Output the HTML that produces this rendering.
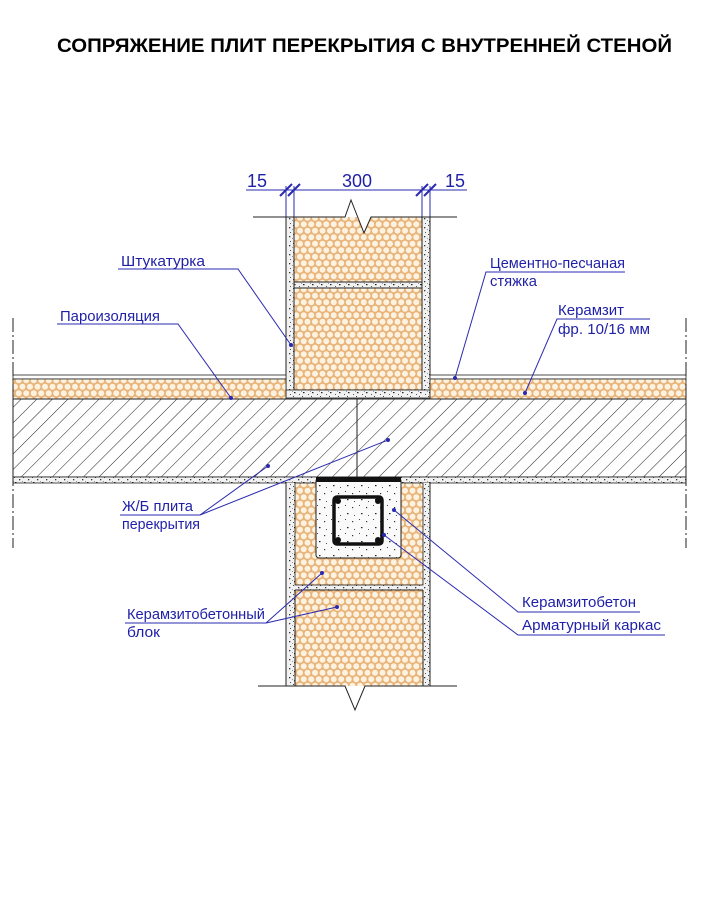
<!DOCTYPE html>
<html><head><meta charset="utf-8"><style>
html,body{margin:0;padding:0;background:#fff;}
svg{display:block;}
text{font-family:"Liberation Sans","DejaVu Sans",sans-serif;}
.lb{fill:#1f1fa8;font-size:15px;}
.ld{stroke:#2a2ab0;stroke-width:1;fill:none;}
</style></head><body>
<svg width="703" height="899" viewBox="0 0 703 899" xmlns="http://www.w3.org/2000/svg">
<defs>
<pattern id="hex" width="7.5" height="13" patternUnits="userSpaceOnUse">
<rect width="7.5" height="13" fill="#e8b47a"/>
<circle cx="3.75" cy="3.25" r="3" fill="#fdf2df"/>
<circle cx="0" cy="9.75" r="3" fill="#fdf2df"/>
<circle cx="7.5" cy="9.75" r="3" fill="#fdf2df"/>
</pattern>
<pattern id="hatch" width="11" height="11" patternUnits="userSpaceOnUse" patternTransform="rotate(45)">
<rect width="11" height="11" fill="#fff"/>
<line x1="0" y1="0" x2="0" y2="11" stroke="#222" stroke-width="1"/>
</pattern>
<pattern id="plas" width="9" height="9" patternUnits="userSpaceOnUse">
<rect width="9" height="9" fill="#f2f2f2"/>
<rect x="1" y="2" width="1.3" height="1.3" fill="#333"/>
<rect x="5" y="0" width="1" height="1" fill="#444"/>
<rect x="6" y="5" width="1.5" height="1.2" fill="#222"/>
<rect x="2" y="7" width="1" height="1" fill="#555"/>
<rect x="4" y="4" width="0.8" height="0.8" fill="#666"/>
</pattern>
<pattern id="conc" width="14" height="14" patternUnits="userSpaceOnUse">
<rect width="14" height="14" fill="#fafafa"/>
<rect x="2" y="3" width="1.2" height="1.2" fill="#333"/>
<rect x="9" y="1" width="1" height="1" fill="#444"/>
<rect x="11" y="9" width="1.5" height="1.2" fill="#222"/>
<rect x="4" y="11" width="1" height="1" fill="#555"/>
</pattern>
</defs>

<text x="57" y="52" font-size="19.5" font-weight="bold" textLength="615" lengthAdjust="spacingAndGlyphs">СОПРЯЖЕНИЕ ПЛИТ ПЕРЕКРЫТИЯ С ВНУТРЕННЕЙ СТЕНОЙ</text>

<!-- dimension -->
<line x1="246" y1="190" x2="467" y2="190" stroke="#2a2ab0"/>
<line x1="286" y1="186" x2="286" y2="217" stroke="#2a2ab0"/>
<line x1="294" y1="186" x2="294" y2="217" stroke="#2a2ab0"/>
<line x1="422" y1="186" x2="422" y2="217" stroke="#2a2ab0"/>
<line x1="430" y1="186" x2="430" y2="217" stroke="#2a2ab0"/>
<g stroke="#2a2ab0" stroke-width="2"><line x1="280" y1="196" x2="292" y2="184"/><line x1="288" y1="196" x2="300" y2="184"/><line x1="416" y1="196" x2="428" y2="184"/><line x1="424" y1="196" x2="436" y2="184"/></g>
<text x="247" y="187" style="fill:#1f1fa8;font-size:18px">15</text>
<text x="342" y="187" style="fill:#1f1fa8;font-size:18px">300</text>
<text x="445" y="187" style="fill:#1f1fa8;font-size:18px">15</text>

<!-- upper wall -->
<rect x="286" y="217" width="144" height="173" fill="url(#plas)"/>
<rect x="294" y="217" width="128" height="65" fill="url(#hex)"/>
<rect x="294" y="288" width="128" height="102" fill="url(#hex)" stroke="#222" stroke-width="1"/>
<line x1="294" y1="282" x2="422" y2="282" stroke="#222"/>
<line x1="286" y1="217" x2="286" y2="398" stroke="#222"/>
<line x1="430" y1="217" x2="430" y2="398" stroke="#222"/>
<line x1="294" y1="217" x2="294" y2="390" stroke="#222"/>
<line x1="422" y1="217" x2="422" y2="390" stroke="#222"/>
<polygon points="345,217 351,200 364,233 371,217" fill="#fff"/>
<polyline points="253,217 345,217 351,200 364,233 371,217 457,217" fill="none" stroke="#222"/>
<rect x="286" y="390" width="144" height="8" fill="url(#plas)" stroke="#222" stroke-width="0.8"/>

<!-- screed + keramzit -->
<rect x="13" y="375" width="273" height="4" fill="#fff" stroke="#222" stroke-width="0.8"/>
<rect x="430" y="375" width="256" height="4" fill="#fff" stroke="#222" stroke-width="0.8"/>
<rect x="13" y="379" width="273" height="20" fill="url(#hex)" stroke="#222" stroke-width="0.8"/>
<rect x="430" y="379" width="256" height="20" fill="url(#hex)" stroke="#222" stroke-width="0.8"/>

<!-- slab -->
<rect x="13" y="399" width="673" height="78" fill="url(#hatch)" stroke="#222" stroke-width="1"/>
<line x1="357" y1="399" x2="357" y2="477" stroke="#222"/>
<rect x="13" y="477" width="673" height="6" fill="url(#plas)" stroke="#222" stroke-width="0.8"/>

<!-- dash-dot edges -->
<g stroke="#222" stroke-dasharray="14,3,2,3"><line x1="13" y1="318" x2="13" y2="548"/><line x1="686" y1="318" x2="686" y2="548"/></g>

<!-- lower wall -->
<rect x="286" y="483" width="144" height="203" fill="url(#plas)"/>
<rect x="295" y="483" width="128" height="102" fill="url(#hex)" stroke="#222" stroke-width="0.8"/>
<rect x="295" y="590" width="128" height="96" fill="url(#hex)"/>
<line x1="295" y1="590" x2="423" y2="590" stroke="#222"/>
<line x1="286" y1="483" x2="286" y2="686" stroke="#222"/>
<line x1="430" y1="483" x2="430" y2="686" stroke="#222"/>
<line x1="295" y1="590" x2="295" y2="686" stroke="#222"/>
<line x1="423" y1="590" x2="423" y2="686" stroke="#222"/>
<rect x="316" y="478" width="85" height="80" rx="3" fill="url(#conc)" stroke="#222"/>
<rect x="316" y="477" width="85" height="5" fill="#111"/>
<rect x="334" y="497" width="48" height="47" rx="3" fill="none" stroke="#111" stroke-width="3.5"/>
<g fill="#111"><circle cx="338" cy="501" r="3"/><circle cx="378" cy="501" r="3"/><circle cx="338" cy="540" r="3"/><circle cx="378" cy="540" r="3"/></g>
<polygon points="345,686 355,710 361,686" fill="#fff"/>
<polyline points="258,686 345,686 355,710 365,686 457,686" fill="none" stroke="#222"/>

<!-- labels -->
<text x="121" y="266" class="lb" textLength="84" lengthAdjust="spacingAndGlyphs">Штукатурка</text>
<polyline class="ld" points="118,269 238,269 291,345"/><circle cx="291" cy="345" r="2" fill="#2a2ab0"/>
<text x="60" y="321" class="lb" textLength="100" lengthAdjust="spacingAndGlyphs">Пароизоляция</text>
<polyline class="ld" points="57,324 178,324 231,398"/><circle cx="231" cy="398" r="2" fill="#2a2ab0"/>
<text x="490" y="268" class="lb" textLength="135" lengthAdjust="spacingAndGlyphs">Цементно-песчаная</text>
<text x="490" y="286" class="lb" textLength="47" lengthAdjust="spacingAndGlyphs">стяжка</text>
<polyline class="ld" points="625,272 486,272 455,378"/><circle cx="455" cy="378" r="2" fill="#2a2ab0"/>
<text x="558" y="315" class="lb" textLength="66" lengthAdjust="spacingAndGlyphs">Керамзит</text>
<text x="558" y="334" class="lb" textLength="92" lengthAdjust="spacingAndGlyphs">фр. 10/16 мм</text>
<polyline class="ld" points="650,319 557,319 525,393"/><circle cx="525" cy="393" r="2" fill="#2a2ab0"/>
<text x="122" y="511" class="lb" textLength="71" lengthAdjust="spacingAndGlyphs">Ж/Б плита</text>
<text x="122" y="529" class="lb" textLength="78" lengthAdjust="spacingAndGlyphs">перекрытия</text>
<polyline class="ld" points="120,515 200,515 268,466"/><line class="ld" x1="200" y1="515" x2="388" y2="440"/>
<circle cx="268" cy="466" r="2" fill="#2a2ab0"/><circle cx="388" cy="440" r="2" fill="#2a2ab0"/>
<text x="127" y="619" class="lb" textLength="138" lengthAdjust="spacingAndGlyphs">Керамзитобетонный</text>
<text x="127" y="637" class="lb" textLength="33" lengthAdjust="spacingAndGlyphs">блок</text>
<polyline class="ld" points="125,623 266,623 322,573"/><line class="ld" x1="266" y1="623" x2="337" y2="607"/>
<circle cx="322" cy="573" r="2" fill="#2a2ab0"/><circle cx="337" cy="607" r="2" fill="#2a2ab0"/>
<text x="522" y="607" class="lb" textLength="114" lengthAdjust="spacingAndGlyphs">Керамзитобетон</text>
<polyline class="ld" points="640,612 518,612 394,510"/><circle cx="394" cy="510" r="2" fill="#2a2ab0"/>
<text x="522" y="630" class="lb" textLength="139" lengthAdjust="spacingAndGlyphs">Арматурный каркас</text>
<polyline class="ld" points="665,635 518,635 384,535"/><circle cx="384" cy="535" r="2" fill="#2a2ab0"/>
</svg>
</body></html>
